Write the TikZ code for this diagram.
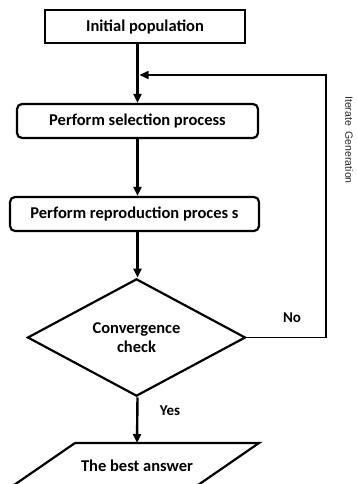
\documentclass[tikz,border=0pt]{standalone}
\usepackage{fontspec}
\setmainfont{Carlito}
\newfontfamily\arialf{Liberation Sans}
\usetikzlibrary{arrows.meta,shapes.geometric}
\begin{document}
\begin{tikzpicture}[x=1pt,y=-1pt,
  every node/.style={font=\fontsize{16.5}{18.5}\selectfont\bfseries},
  boxsq/.style={draw,line width=2.2pt,minimum height=33pt,inner sep=0pt},
  boxrd/.style={draw,line width=2.2pt,rounded corners=5pt,minimum height=34pt,inner sep=0pt},
  flow/.style={line width=2.4pt,-{Triangle[length=9pt,width=8pt]}},
  back/.style={line width=1.5pt,-{Triangle[length=9pt,width=8pt]}},
  lab/.style={font=\fontsize{15}{17}\selectfont\bfseries}]
\useasboundingbox (0,0) rectangle (356,484);
\clip (0,0) rectangle (356,484);
\node[boxsq,minimum width=200pt] (init) at (145,26.5) {Initial population};
\node[boxrd,minimum width=241pt] (sel) at (137.5,121) {Perform selection process};
\node[boxrd,minimum width=249pt] (rep) at (134.5,214) {Perform reproduction proces s};
\node[diamond,draw,line width=2.2pt,minimum width=218pt,minimum height=101pt,inner sep=0pt,align=center] (dia) at (136.5,337.5) {Convergence\\check};
\coordinate (fb) at (326,75);
\coordinate (nr) at (326,337.5);
\coordinate (anstop) at (137,443);
\node (ans) at (137,466) {The best answer};
\draw[line width=2.2pt] (75,443) -- (259,443) -- ++(-87,60);
\draw[line width=2.2pt] (75,443) -- ++(-87,60);
\draw[flow] (init.south -| sel.north) -- (sel.north);
\draw[flow] (sel.south) -- (sel.south |- rep.north);
\draw[flow] (sel.south |- rep.south) -- (sel.south |- dia.north);
\draw[flow] (sel.south |- dia.south) -- (anstop);
\draw[back] (dia.east) -- (nr) -- (fb) -- ([xshift=2pt]sel.north |- fb);
\node[lab] (no) at (292,318) {No};
\node[lab] (yes) at (170,411) {Yes};
\node[font=\arialf\fontsize{10.5}{12}\selectfont,text=black!85,rotate=-90] (iter) at (349,140) {Iterate\ \ Generation};
\end{tikzpicture}
\end{document}
